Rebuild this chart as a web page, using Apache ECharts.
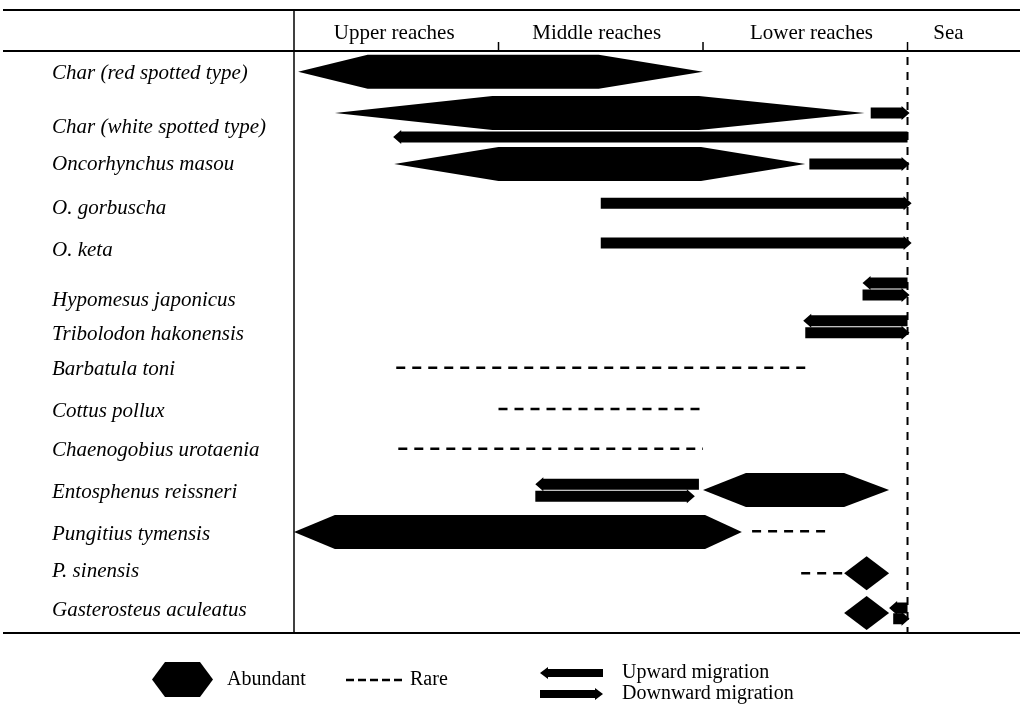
<!DOCTYPE html>
<html><head><meta charset="utf-8">
<script src="https://cdn.jsdelivr.net/npm/echarts@6/dist/echarts.min.js"></script>
<style>html,body{margin:0;padding:0;background:#fff}#c{width:1020px;height:704px}</style>
</head><body><div id="c"></div>
<script>
// ---- data ----
// x: position along the river, 0 = head of upper reaches, 1 = upper/middle, 2 = middle/lower, 3 = river mouth (sea beyond)
// row: vertical position in the table (1 unit = one species row)
const species = ['Char (red spotted type)', 'Char (white spotted type)', 'Oncorhynchus masou', 'O. gorbuscha', 'O. keta',
  'Hypomesus japonicus', 'Tribolodon hakonensis', 'Barbatula toni', 'Cottus pollux', 'Chaenogobius urotaenia',
  'Entosphenus reissneri', 'Pungitius tymensis', 'P. sinensis', 'Gasterosteus aculeatus'];
const labelRow = [0.05, 1.35, 2.22, 3.30, 4.31, 5.49, 6.33, 7.17, 8.16, 9.12, 10.13, 11.12, 12.01, 12.97];
const reaches = ['Upper reaches', 'Middle reaches', 'Lower reaches', 'Sea'];
const reachCenter = [0.49, 1.48, 2.53, 3.20];
const reachBoundary = [1, 2, 3];
const seaBoundary = 3;
// abundant: [row, start, full from, full to, end]
const abundant = [
  [0.00, 0.02, 0.36, 1.49, 2.00],
  [0.99, 0.20, 0.97, 1.98, 2.79],
  [2.22, 0.49, 1.00, 1.99, 2.50],
  [10.06, 2.00, 2.21, 2.69, 2.91],
  [11.07, 0.00, 0.20, 2.01, 2.19],
  [12.06, 2.69, 2.80, 2.80, 2.91],
  [13.02, 2.69, 2.80, 2.80, 2.91]
];
// rare: [row, from, to]
const rare = [[7.12, 0.50, 2.50], [8.11, 1.00, 2.00], [9.07, 0.51, 2.00], [11.05, 2.24, 2.61], [12.06, 2.48, 2.70]];
// upward migration: [row, head, tail]
const upward = [[1.57, 0.485, 3.00], [5.08, 2.78, 3.00], [5.99, 2.49, 3.00], [9.92, 1.18, 1.98], [12.90, 2.91, 3.00]];
// downward migration: [row, tail, head]
const downward = [[0.99, 2.82, 3.01], [2.22, 2.52, 3.01], [3.16, 1.50, 3.02], [4.12, 1.50, 3.02],
  [5.37, 2.78, 3.01], [6.28, 2.50, 3.01], [10.21, 1.18, 1.96], [13.16, 2.93, 3.01]];

// ---- drawing ----
const SERIF = '"Liberation Serif", "Times New Roman", serif';
function nearest(arr, v) { let b = 0; for (let i = 1; i < arr.length; i++) if (Math.abs(arr[i] - v) < Math.abs(arr[b] - v)) b = i; return b; }

function renderAbundant(params, api) {
  const y = api.value(0);
  const p0 = api.coord([api.value(1), y]), p1 = api.coord([api.value(2), y]);
  const p2 = api.coord([api.value(3), y]), p3 = api.coord([api.value(4), y]);
  const h = 17;
  return { type: 'polygon', shape: { points: [[p0[0], p0[1]], [p1[0], p1[1] - h], [p2[0], p2[1] - h], [p3[0], p3[1]], [p2[0], p2[1] + h], [p1[0], p1[1] + h]] }, style: { fill: '#000' } };
}
function renderRare(params, api) {
  const y = api.value(0);
  const a = api.coord([api.value(1), y]), b = api.coord([api.value(2), y]);
  return { type: 'line', shape: { x1: a[0], y1: a[1], x2: b[0], y2: b[1] }, style: { stroke: '#000', lineWidth: 2.5, lineDash: [9, 7] } };
}
function arrowPoints(xt, xh, y) {
  const d = xh > xt ? 1 : -1, t = 5.5, o = 7, hl = 8;
  const xb = xh - d * hl;
  return [[xt, y - t], [xb, y - t], [xb, y - o], [xh, y], [xb, y + o], [xb, y + t], [xt, y + t]];
}
function renderUp(params, api) {
  const y = api.value(0);
  const h = api.coord([api.value(1), y]), t = api.coord([api.value(2), y]);
  return { type: 'polygon', shape: { points: arrowPoints(t[0], h[0], h[1]) }, style: { fill: '#000' } };
}
function renderDown(params, api) {
  const y = api.value(0);
  const t = api.coord([api.value(1), y]), h = api.coord([api.value(2), y]);
  return { type: 'polygon', shape: { points: arrowPoints(t[0], h[0], h[1]) }, style: { fill: '#000' } };
}
// reach boundary ticks above the header rule
function renderTick(params, api) {
  const cs = params.coordSys;
  const x = api.coord([api.value(0), 0])[0];
  return { type: 'line', shape: { x1: x, y1: cs.y - 9, x2: x, y2: cs.y }, style: { stroke: '#000', lineWidth: 1.5 } };
}
function renderBoundary(params, api) {
  const cs = params.coordSys;
  const x = api.coord([api.value(0), 0])[0];
  return { type: 'line', shape: { x1: x, y1: cs.y + 6, x2: x, y2: cs.y + cs.height }, style: { stroke: '#000', lineWidth: 2, lineDash: [8, 7] } };
}

const legendText = { fontFamily: SERIF, fontSize: 20, color: '#000' };
const chart = echarts.init(document.getElementById('c'), null, { renderer: 'canvas' });
chart.setOption({
  animation: false,
  backgroundColor: '#fff',
  grid: { left: 294, right: 0, top: 51, bottom: 71, containLabel: false },
  xAxis: {
    type: 'value', position: 'top', min: 0, max: 3.55,
    axisLine: { show: false }, splitLine: { show: false }, axisTick: { show: false },
    axisLabel: { customValues: reachCenter, formatter: v => reaches[nearest(reachCenter, v)], fontFamily: SERIF, fontSize: 21, color: '#000', margin: 7 }
  },
  yAxis: {
    type: 'value', inverse: true, min: -0.5, max: 13.5,
    axisLine: { show: false }, axisTick: { show: false }, splitLine: { show: false },
    axisLabel: { customValues: labelRow, formatter: v => species[nearest(labelRow, v)], align: 'left', margin: 242,
      fontFamily: SERIF, fontStyle: 'italic', fontSize: 21, color: '#000' }
  },
  legend: [
    { data: ['Abundant'], left: 147, top: 657, itemWidth: 61, itemHeight: 35, selectedMode: false,
      icon: 'path://M0,17.5L13,0L48,0L61,17.5L48,35L13,35Z',
      textStyle: Object.assign({ padding: [0, 0, 0, 9] }, legendText) },
    { data: ['Rare'], left: 341, top: 665, itemWidth: 56, itemHeight: 2.5, selectedMode: false,
      icon: 'path://M0,0h8v2.5h-8zM12,0h8v2.5h-8zM24,0h8v2.5h-8zM36,0h8v2.5h-8zM48,0h8v2.5h-8z',
      textStyle: Object.assign({ padding: [0, 0, 0, 3] }, legendText) },
    { data: ['Upward migration'], left: 535, top: 658, itemWidth: 63, itemHeight: 12, selectedMode: false,
      icon: 'path://M0,6L8,0L8,2L63,2L63,10L8,10L8,12Z',
      textStyle: Object.assign({ padding: [0, 0, 0, 14] }, legendText) },
    { data: ['Downward migration'], left: 535, top: 679, itemWidth: 63, itemHeight: 12, selectedMode: false,
      icon: 'path://M0,2L55,2L55,0L63,6L55,12L55,10L0,10Z',
      textStyle: Object.assign({ padding: [0, 0, 0, 14] }, legendText) }
  ],
  graphic: [
    { type: 'line', shape: { x1: 3, y1: 10, x2: 1020, y2: 10 }, style: { stroke: '#000', lineWidth: 2 } },
    { type: 'line', shape: { x1: 3, y1: 51, x2: 1020, y2: 51 }, style: { stroke: '#000', lineWidth: 2 } },
    { type: 'line', shape: { x1: 3, y1: 633, x2: 1020, y2: 633 }, style: { stroke: '#000', lineWidth: 2 } },
    { type: 'line', shape: { x1: 294, y1: 10, x2: 294, y2: 633 }, style: { stroke: '#000', lineWidth: 1.5 } }
  ],
  series: [
    { name: 'Abundant', type: 'custom', renderItem: renderAbundant, data: abundant, itemStyle: { color: '#000' }, encode: { x: [1, 2, 3, 4], y: 0 }, silent: true },
    { name: 'Rare', type: 'custom', renderItem: renderRare, data: rare, itemStyle: { color: '#000' }, encode: { x: [1, 2], y: 0 }, silent: true },
    { name: 'Upward migration', type: 'custom', renderItem: renderUp, data: upward, itemStyle: { color: '#000' }, encode: { x: [1, 2], y: 0 }, silent: true },
    { name: 'Downward migration', type: 'custom', renderItem: renderDown, data: downward, itemStyle: { color: '#000' }, encode: { x: [1, 2], y: 0 }, silent: true },
    { name: 'reach ticks', type: 'custom', renderItem: renderTick, data: reachBoundary.map(v => [v]), encode: { x: 0 }, silent: true, clip: false },
    { name: 'sea boundary', type: 'custom', renderItem: renderBoundary, data: [[seaBoundary]], encode: { x: 0 }, silent: true, clip: false }
  ]
});
</script></body></html>
